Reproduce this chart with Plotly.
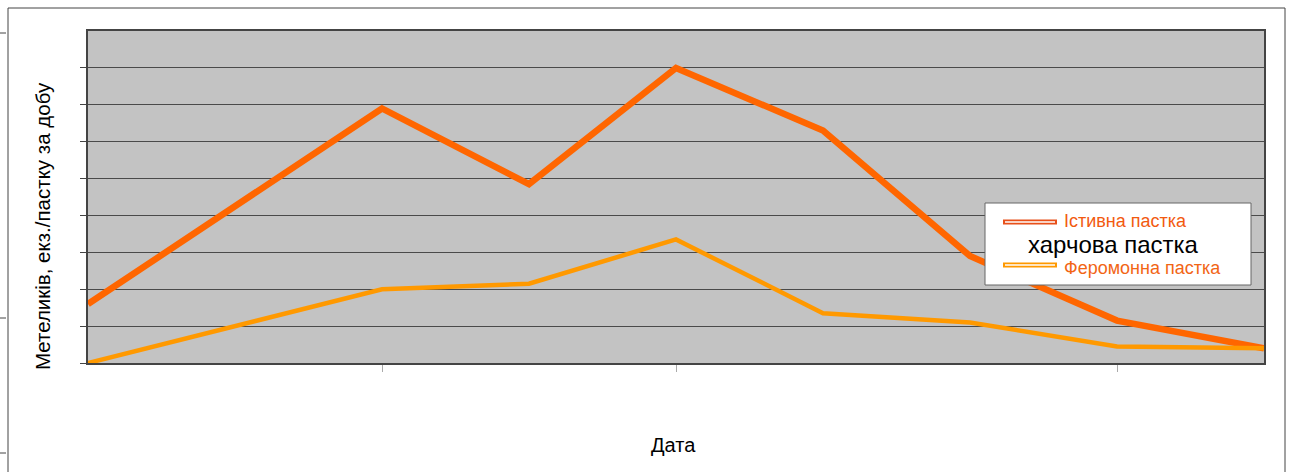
import plotly.graph_objects as go

# Observation sequence (relative survey index) and catches per trap type
obs_index = [0, 2, 3, 4, 5, 6, 7, 8]
food_trap = [1.6, 6.9, 4.85, 8.0, 6.3, 2.9, 1.15, 0.4]
pheromone_trap = [0.0, 2.0, 2.15, 3.35, 1.35, 1.1, 0.45, 0.4]
y_ticks = [0, 1, 2, 3, 4, 5, 6, 7, 8]

y_title = "Метеликів, екз./пастку за добу"
x_title = "Дата"
legend_food_1 = "Істивна пастка"
legend_food_2 = "харчова пастка"
legend_pher = "Феромонна пастка"

W, H = 1295, 472
FONT = "Liberation Sans, Arial, sans-serif"
ORANGE = "#FF6600"
AMBER = "#FF9900"


def px(x):
    return x / W


def py(y):
    return 1 - y / H


fig = go.Figure()
fig.add_trace(go.Scatter(x=obs_index, y=food_trap, mode="lines",
                         line=dict(color=ORANGE, width=6.5),
                         name=legend_food_1 + " " + legend_food_2,
                         showlegend=False))
fig.add_trace(go.Scatter(x=obs_index, y=pheromone_trap, mode="lines",
                         line=dict(color=AMBER, width=4.5),
                         name=legend_pher, showlegend=False))

shapes = []
# outer chart frame
frame = dict(type="line", xref="paper", yref="paper",
             line=dict(color="#444444", width=1))
shapes.append({**frame, "x0": px(8), "x1": px(1285), "y0": py(8), "y1": py(8)})
shapes.append({**frame, "x0": px(8), "x1": px(8), "y0": py(8), "y1": py(472)})
shapes.append({**frame, "x0": px(1285), "x1": px(1285), "y0": py(8), "y1": py(472)})
for ty in (33, 318, 453):
    shapes.append({**frame, "x0": px(0), "x1": px(6), "y0": py(ty), "y1": py(ty)})

# legend box
shapes.append(dict(type="rect", xref="paper", yref="paper",
                   x0=px(985), x1=px(1251), y0=py(285), y1=py(203),
                   fillcolor="white", line=dict(color="#666666", width=1),
                   layer="above"))
# legend line keys (drawn as outlined strokes)
for yk, col in ((222, "#E8501A"), (265, AMBER)):
    shapes.append(dict(type="line", xref="paper", yref="paper",
                       x0=px(1003), x1=px(1057), y0=py(yk), y1=py(yk),
                       line=dict(color=col, width=5), layer="above"))
    shapes.append(dict(type="line", xref="paper", yref="paper",
                       x0=px(1005), x1=px(1055), y0=py(yk), y1=py(yk),
                       line=dict(color="white", width=1.5), layer="above"))

annotations = [
    dict(text=legend_food_1, x=px(1062), y=py(221), xref="paper", yref="paper",
         xanchor="left", yanchor="middle", showarrow=False,
         font=dict(family=FONT, size=18, color="#F25A10")),
    dict(text=legend_food_2, x=px(1026), y=py(245), xref="paper", yref="paper",
         xanchor="left", yanchor="middle", showarrow=False,
         font=dict(family=FONT, size=24, color="black")),
    dict(text=legend_pher, x=px(1062), y=py(268), xref="paper", yref="paper",
         xanchor="left", yanchor="middle", showarrow=False,
         font=dict(family=FONT, size=18, color="#F26515")),
    dict(text=x_title, x=px(673), y=py(445), xref="paper", yref="paper",
         xanchor="center", yanchor="middle", showarrow=False,
         font=dict(family=FONT, size=20, color="black")),
    dict(text=y_title, x=px(42), y=py(226), xref="paper", yref="paper",
         xanchor="center", yanchor="middle", showarrow=False, textangle=-90,
         font=dict(family=FONT, size=20.5, color="black")),
]

fig.update_layout(
    width=W, height=H,
    margin=dict(l=0, r=0, t=0, b=0),
    paper_bgcolor="white",
    plot_bgcolor="#C3C3C3",
    font=dict(family=FONT),
    shapes=shapes,
    annotations=annotations,
    xaxis=dict(domain=[px(88), px(1264)], range=[0, 8], showgrid=False,
               zeroline=False, showticklabels=False,
               tickmode="array", tickvals=[2, 4, 7], ticks="outside",
               ticklen=7, tickcolor="#aaaaaa", tickwidth=1,
               showline=True, linecolor="#444444", linewidth=2, mirror=True),
    yaxis=dict(domain=[py(363), py(31)], range=[0, 9],
               tickmode="array", tickvals=y_ticks,
               showgrid=True, gridcolor="#4a4a4a", gridwidth=1,
               zeroline=False, showticklabels=False,
               ticks="outside", ticklen=6, tickcolor="#444444",
               showline=True, linecolor="#444444", linewidth=2, mirror=True),
)

fig.write_html("out.html")
